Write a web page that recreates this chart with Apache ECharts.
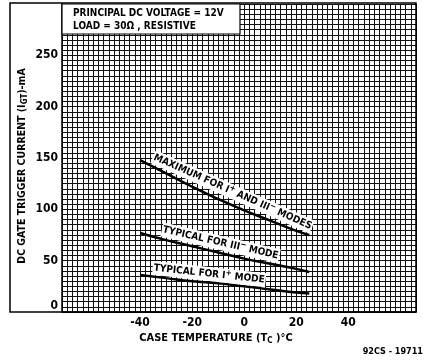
<!DOCTYPE html>
<html>
<head>
<meta charset="utf-8">
<script src="https://cdn.jsdelivr.net/npm/echarts@6/dist/echarts.min.js"></script>
<style>
    html, body { margin: 0; padding: 0; background: #fff; }
    #chart { width: 428px; height: 361px; }
</style>
</head>
<body>
<div id="chart"></div>
<script>
// 数据
var temps = [-40, -30, -20, -10, 0, 10, 20, 25];
var maxI3 = [148, 135, 122, 110, 99, 89, 79, 75];   // MAXIMUM FOR I+ AND III- MODES
var typIII = [77, 70, 64, 58, 52, 47, 42, 39];      // TYPICAL FOR III- MODE
var typI = [36, 33, 30, 28, 25, 22, 19, 18];        // TYPICAL FOR I+ MODE
var xTicks = [-40, -20, 0, 20, 40];
var yTicks = [0, 50, 100, 150, 200, 250];

var FONT = "'DejaVu Sans Condensed', 'Liberation Sans Narrow', 'DejaVu Sans', sans-serif";

function pairs(xs, ys) {
    var out = [];
    for (var i = 0; i < xs.length; i++) {
        out.push([xs[i], ys[i]]);
    }
    return out;
}

function lineSeries(name, vals) {
    return {
        name: name,
        type: 'line',
        smooth: true,
        symbol: 'none',
        lineStyle: { color: '#000', width: 2.5 },
        data: pairs(temps, vals),
        z: 5
    };
}

var myChart = echarts.init(document.getElementById('chart'));

var option = {
    backgroundColor: '#fff',
    animation: false,
    grid: { left: 62, right: 12, top: 4, bottom: 49 },
    xAxis: {
        type: 'value',
        min: -70,
        max: 66,
        interval: 2,
        axisLine: { show: true, onZero: false, lineStyle: { color: '#000', width: 1.5 } },
        axisTick: { show: false },
        splitLine: { show: true, lineStyle: { color: '#111', width: 1 } },
        axisLabel: {
            margin: 5,
            color: '#000',
            fontSize: 12,
            fontWeight: 'bold',
            fontFamily: FONT,
            formatter: function (v) {
                return xTicks.indexOf(v) >= 0 ? String(v) : '';
            }
        }
    },
    yAxis: {
        type: 'value',
        min: 0,
        max: 300,
        interval: 5,
        axisLine: { show: true, onZero: false, lineStyle: { color: '#000', width: 1.5 } },
        axisTick: { show: false },
        splitLine: { show: true, lineStyle: { color: '#111', width: 1 } },
        axisLabel: {
            margin: 4,
            color: '#000',
            fontSize: 12,
            fontWeight: 'bold',
            fontFamily: FONT,
            formatter: function (v) {
                if (v === 0) return '{z|0}';
                return yTicks.indexOf(v) >= 0 ? String(v) : '';
            },
            rich: {
                z: { fontSize: 12, fontWeight: 'bold', fontFamily: FONT, color: '#000', padding: [0, 0, 12, 0] }
            }
        }
    },
    series: [
        lineSeries('max', maxI3),
        lineSeries('typIII', typIII),
        lineSeries('typI', typI)
    ]
};
myChart.setOption(option);

/*==================== 曲线标注 + 框 ====================*/
var labelRich = {
    t: { font: 'bold 10px ' + FONT, fill: '#000' },
    p: { font: 'bold 8px ' + FONT, fill: '#000', padding: [0, 0, 6, 0] }
};

function curveLabel(text, vals, frac) {
    var n = temps.length - 1;
    var p0 = myChart.convertToPixel({ gridIndex: 0 }, [temps[0], vals[0]]);
    var p1 = myChart.convertToPixel({ gridIndex: 0 }, [temps[n], vals[n]]);
    var ang = Math.atan2(p1[1] - p0[1], p1[0] - p0[0]);
    return {
        type: 'text',
        x: p0[0] + (p1[0] - p0[0]) * frac,
        y: p0[1] + (p1[1] - p0[1]) * frac - 1.5,
        rotation: -ang,
        z: 10,
        style: {
            text: text,
            fill: '#000',
            font: 'bold 10px ' + FONT,
            align: 'left',
            verticalAlign: 'bottom',
            backgroundColor: '#fff',
            padding: [0, 1, 0, 1],
            rich: labelRich
        }
    };
}

var gRight = myChart.convertToPixel({ gridIndex: 0 }, [66, 0])[0];
var gBottom = myChart.convertToPixel({ gridIndex: 0 }, [0, 0])[1];

myChart.setOption({
    graphic: [
        { // 外框
            type: 'rect',
            shape: { x: 10, y: 3, width: gRight - 10, height: gBottom - 3 },
            style: { fill: null, stroke: '#000', lineWidth: 1.5 },
            z: 20
        },
        { // 条件框
            type: 'rect',
            shape: { x: 62, y: 4, width: 178, height: 30 },
            style: { fill: '#fff', stroke: '#000', lineWidth: 1.2 },
            z: 10
        },
        {
            type: 'text', x: 73, y: 13, z: 11,
            style: { text: 'PRINCIPAL DC VOLTAGE = 12V', fill: '#000', font: 'bold 10px ' + FONT, verticalAlign: 'middle' }
        },
        {
            type: 'text', x: 73, y: 26, z: 11,
            style: { text: 'LOAD = 30Ω , RESISTIVE', fill: '#000', font: 'bold 10px ' + FONT, verticalAlign: 'middle' }
        },
        curveLabel('{t|MAXIMUM FOR I}{p|+}{t| AND III}{p|−}{t| MODES}', maxI3, 0.06),
        curveLabel('{t|TYPICAL FOR III}{p|−}{t| MODE}', typIII, 0.12),
        curveLabel('{t|TYPICAL FOR I}{p|+}{t| MODE}', typI, 0.07),
        { // y轴标题
            type: 'text', x: 22, y: 166, rotation: Math.PI / 2, z: 11,
            style: {
                text: 'DC GATE TRIGGER CURRENT (I{s|GT})-mA',
                fill: '#000', font: 'bold 10.5px ' + FONT,
                align: 'center', verticalAlign: 'middle',
                rich: { s: { font: 'bold 8px ' + FONT, padding: [6, 0, 0, 0] } }
            }
        },
        { // x轴标题
            type: 'text', x: 216, y: 338, z: 11,
            style: {
                text: 'CASE TEMPERATURE (T{s|C} )°C',
                fill: '#000', font: 'bold 11px ' + FONT,
                align: 'center', verticalAlign: 'middle',
                rich: { s: { font: 'bold 8px ' + FONT, padding: [6, 0, 0, 0] } }
            }
        },
        {
            type: 'text', x: 423, y: 352, z: 11,
            style: { text: '92CS - 19711', fill: '#000', font: 'bold 9px ' + FONT, align: 'right', verticalAlign: 'middle' }
        }
    ]
});
</script>
</body>
</html>
